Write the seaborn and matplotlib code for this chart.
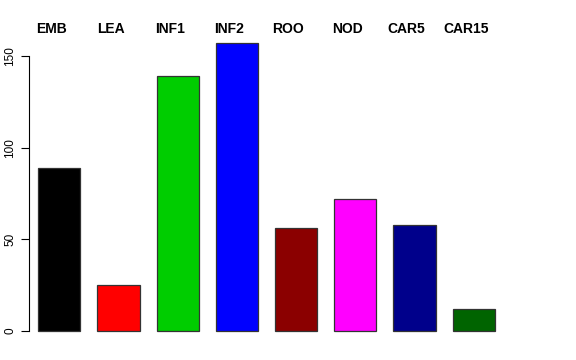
"""
Bar chart of counts per tissue / sample group (R barplot look)
"""

import matplotlib
matplotlib.use("Agg")
import matplotlib.pyplot as plt
import matplotlib.transforms as mtransforms
import seaborn as sns

# Data
categories = ["EMB", "LEA", "INF1", "INF2", "ROO", "NOD", "CAR5", "CAR15"]
values = [89, 25, 139, 157, 56, 72, 58, 12]
bar_colors = ["#000000", "#FF0000", "#00CD00", "#0000FF",
              "#8B0000", "#FF00FF", "#00008B", "#006400"]
y_ticks = [0, 50, 100, 150]

FONT = ["Liberation Sans", "DejaVu Sans"]

sns.set_theme(style="white")
plt.rcParams["font.family"] = FONT

W, H = 576, 360
fig = plt.figure(figsize=(W / 100, H / 100), dpi=100)

# Axes placement in pixels (matches the reference plot region)
px_per_unit_y = 1.834
y0_px = 331                      # pixel row of y = 0 (from top)
ylim = (-6.3, 163.3)
ax_left, ax_right = 29, 504
bottom_px = H - y0_px - (-ylim[0]) * px_per_unit_y
height_px = (ylim[1] - ylim[0]) * px_per_unit_y
ax = fig.add_axes([ax_left / W, bottom_px / H,
                   (ax_right - ax_left) / W, height_px / H])

sns.barplot(x=categories, y=values, hue=categories, palette=bar_colors,
            legend=False, width=0.71, edgecolor="#333333", linewidth=0.9,
            saturation=1, ax=ax)

ax.set_xlim(-0.512, 7.512)
ax.set_ylim(*ylim)
ax.set_xlabel("")
ax.set_ylabel("")
ax.set_xticks([])

# y axis, R style
ax.set_yticks(y_ticks)
ax.set_yticklabels([str(t) for t in y_ticks], fontsize=8.5, family=FONT)
ax.tick_params(axis="y", which="major", direction="out", length=6,
               width=0.8, color="black", labelcolor="black", pad=3,
               left=True, labelrotation=90)
for lab in ax.get_yticklabels():
    lab.set_va("center")
for side in ["top", "right", "bottom"]:
    ax.spines[side].set_visible(False)
ax.spines["left"].set_bounds(0, 150)
ax.spines["left"].set_color("black")
ax.spines["left"].set_linewidth(0.8)
ax.grid(False)

# group labels along the top
trans = mtransforms.blended_transform_factory(ax.transData, fig.transFigure)
for i, name in enumerate(categories):
    ax.text(i - 0.135, 1 - 29.3 / H, name, transform=trans,
            ha="center", va="center", fontsize=10, fontweight="bold",
            family=FONT, color="black")

fig.savefig("out.png", dpi=100)
plt.close(fig)
